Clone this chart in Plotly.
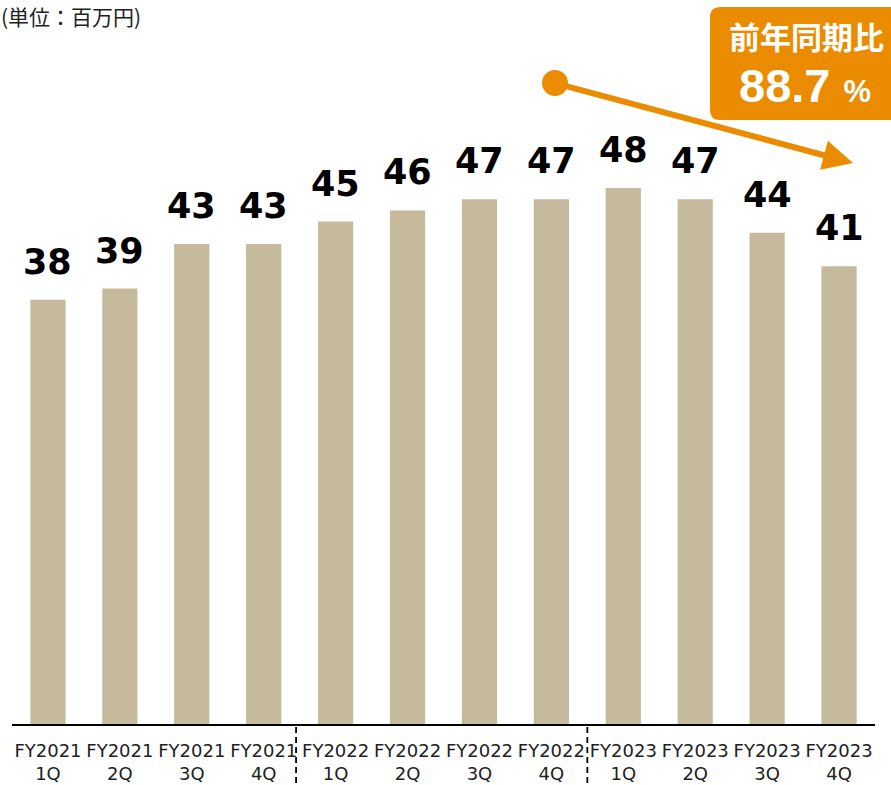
import plotly.graph_objects as go

categories = ["FY2021<br>1Q", "FY2021<br>2Q", "FY2021<br>3Q", "FY2021<br>4Q",
              "FY2022<br>1Q", "FY2022<br>2Q", "FY2022<br>3Q", "FY2022<br>4Q",
              "FY2023<br>1Q", "FY2023<br>2Q", "FY2023<br>3Q", "FY2023<br>4Q"]
values = [38, 39, 43, 43, 45, 46, 47, 47, 48, 47, 44, 41]
yoy_label = "前年同期比"
yoy_value = "88.7"
unit_label = "(単位：百万円)"

W, H = 891, 785
ML, MR, MT, MB = 12, 16, 24, 61
PW, PH = W - ML - MR, H - MT - MB
PX_PER_UNIT = 11.165
YMAX = PH / PX_PER_UNIT

def px(x):
    return (x - ML) / PW

def py(y):
    return (H - MB - y) / PH

BAR = "#C5BA9B"
ORANGE = "#EB8C00"

fig = go.Figure()
fig.add_trace(go.Bar(x=list(range(len(values))), y=values, marker_color=BAR,
                     marker_line_width=0, width=0.49, hoverinfo="skip"))

annotations = []
for i, v in enumerate(values):
    annotations.append(dict(x=i, y=v, xref="x", yref="y", text=str(v), showarrow=False,
                            yanchor="bottom", yshift=16,
                            font=dict(family="DejaVu Sans", size=35, color="#000000",
                                      weight="bold")))

annotations.append(dict(x=0, y=1, xref="paper", yref="paper", xanchor="left", yanchor="top",
                        xshift=-ML, yshift=MT, borderpad=0, text=unit_label, showarrow=False,
                        font=dict(family="Noto Sans CJK JP", size=21, color="#222222")))

# orange box with rounded left corners
x0, x1 = px(710), px(905)
y0, y1 = py(120), py(7)
rx, ry = 10 / PW, 10 / PH
path = (f"M {x0+rx},{y1} L {x1},{y1} L {x1},{y0} L {x0+rx},{y0} "
        f"Q {x0},{y0} {x0},{y0+ry} L {x0},{y1-ry} Q {x0},{y1} {x0+rx},{y1} Z")
shapes = [dict(type="path", path=path, xref="paper", yref="paper",
               fillcolor=ORANGE, line=dict(width=0), layer="above")]

annotations.append(dict(x=px(806), y=py(36), xref="paper", yref="paper", text=yoy_label,
                        showarrow=False, xanchor="center", yanchor="middle",
                        font=dict(family="Noto Sans CJK JP", size=31, color="white", weight="bold")))
annotations.append(dict(x=px(805), y=py(85), xref="paper", yref="paper",
                        text=f"<b>{yoy_value} <span style='font-size:31px'>%</span></b>",
                        showarrow=False, xanchor="center", yanchor="middle",
                        font=dict(family="Liberation Sans", size=47, color="white")))

# trend arrow
annotations.append(dict(x=px(853), y=py(163), xref="paper", yref="paper",
                        ax=558 - 853, ay=84 - 163, axref="pixel", ayref="pixel",
                        showarrow=True, arrowhead=2, arrowsize=1.0, arrowwidth=6,
                        arrowcolor=ORANGE, standoff=0, startstandoff=0, text=""))
cr = 13
shapes.append(dict(type="circle", xref="paper", yref="paper",
                   x0=px(555 - cr), x1=px(555 + cr), y0=py(83 + cr), y1=py(83 - cr),
                   fillcolor=ORANGE, line=dict(width=0), layer="above"))

# dashed fiscal-year separators
for xs in (3.45, 7.5):
    shapes.append(dict(type="line", xref="x", yref="paper", x0=xs, x1=xs,
                       y0=py(727), y1=py(786),
                       line=dict(color="#000000", width=1.8, dash="6px,4px")))

fig.update_layout(
    width=W, height=H, margin=dict(l=ML, r=MR, t=MT, b=MB, autoexpand=False),
    paper_bgcolor="white", plot_bgcolor="white", showlegend=False,
    annotations=annotations, shapes=shapes,
    xaxis=dict(tickmode="array", tickvals=list(range(len(values))), ticktext=categories,
               range=[-0.5, len(values) - 0.5], showline=True, linecolor="#000000", linewidth=2,
               showgrid=False, zeroline=False, ticks="", ticklabelstandoff=9, automargin=False,
               tickfont=dict(family="DejaVu Sans", size=18, color="#222222"),
               fixedrange=True),
    yaxis=dict(range=[0, YMAX], visible=False, showgrid=False, zeroline=False, fixedrange=True),
)

fig.write_html("out.html")
